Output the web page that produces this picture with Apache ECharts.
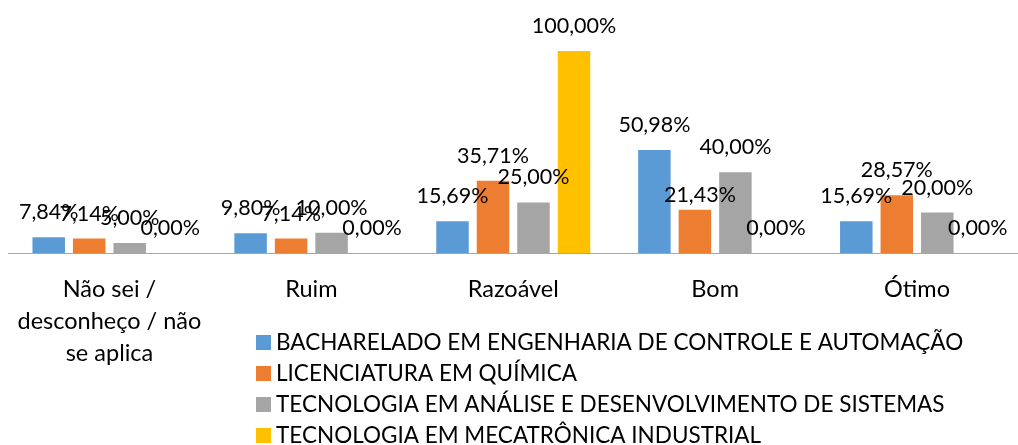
<!DOCTYPE html>
<html>
<head>
<meta charset="utf-8">
<script src="https://cdn.jsdelivr.net/npm/echarts@6/dist/echarts.min.js"></script>
<style>
  html, body { margin: 0; padding: 0; background: #fff; }
  #chart { width: 1018px; height: 445px; }
</style>
</head>
<body>
<div id="chart"></div>
<script>
// Avaliação por curso (percentual de respostas)
const categories = ['Não sei /\ndesconheço / não\nse aplica', 'Ruim', 'Razoável', 'Bom', 'Ótimo'];
const seriesNames = [
  'BACHARELADO EM ENGENHARIA DE CONTROLE E AUTOMAÇÃO',
  'LICENCIATURA EM QUÍMICA',
  'TECNOLOGIA EM ANÁLISE E DESENVOLVIMENTO DE SISTEMAS',
  'TECNOLOGIA EM MECATRÔNICA INDUSTRIAL'
];
const engControleAutomacao = [7.84, 9.80, 15.69, 50.98, 15.69];
const licQuimica = [7.14, 7.14, 35.71, 21.43, 28.57];
const tecAnaliseSistemas = [5.00, 10.00, 25.00, 40.00, 20.00];
const tecMecatronica = [0.00, 0.00, 100.00, 0.00, 0.00];

const colors = ['#5B9BD5', '#ED7D31', '#A5A5A5', '#FFC000'];
const FONT = 'Lato, "Open Sans", sans-serif';

const fmt = p => p.value.toFixed(2).replace('.', ',') + '%';

function makeSeries(name, values, color, labelTweaks) {
  return {
    name: name,
    type: 'bar',
    barWidth: 32.5,
    barGap: '24.6%',
    itemStyle: { color: color },
    label: {
      show: true,
      position: 'top',
      distance: 14,
      formatter: fmt,
      fontFamily: FONT,
      fontSize: 21.5,
      color: '#000'
    },
    data: values.map((v, i) => {
      const item = { value: v };
      if (labelTweaks && labelTweaks[i]) item.label = { offset: labelTweaks[i] };
      return item;
    })
  };
}

const chart = echarts.init(document.getElementById('chart'), null, { renderer: 'canvas' });
chart.setOption({
  animation: false,
  grid: { left: 8.5, top: 51, width: 1013.5, height: 202, containLabel: false },
  legend: {
    orient: 'vertical',
    left: 251,
    top: 326,
    height: 200,
    icon: 'rect',
    itemWidth: 15,
    itemHeight: 15,
    itemGap: 8,
    textStyle: { fontFamily: FONT, fontSize: 22.5, color: '#000' },
    data: seriesNames
  },
  xAxis: {
    type: 'category',
    data: categories,
    axisLine: { lineStyle: { color: '#A6A6A6', width: 1 } },
    axisTick: { show: false },
    axisLabel: {
      interval: 0,
      margin: 20,
      fontFamily: FONT,
      fontSize: 23.5,
      lineHeight: 32,
      color: '#000'
    }
  },
  yAxis: {
    type: 'value',
    min: 0,
    max: 100,
    show: false,
    splitLine: { show: false }
  },
  series: [
    makeSeries(seriesNames[0], engControleAutomacao, colors[0]),
    makeSeries(seriesNames[1], licQuimica, colors[1], { 3: [5, 10] }),
    makeSeries(seriesNames[2], tecAnaliseSistemas, colors[2]),
    makeSeries(seriesNames[3], tecMecatronica, colors[3])
  ]
});
</script>
</body>
</html>
